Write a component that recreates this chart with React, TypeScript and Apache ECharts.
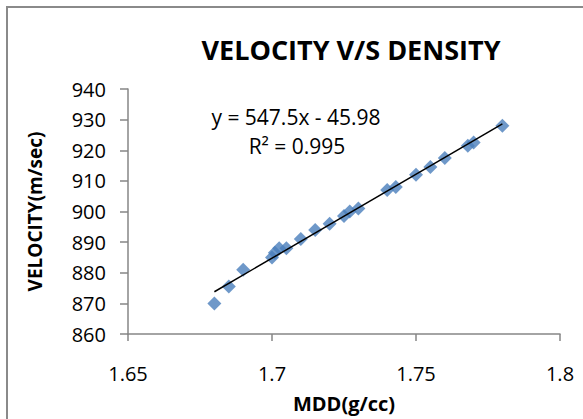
import React, { useEffect, useRef } from "react";
import * as echarts from "echarts";

const mddValues = [1.68, 1.685, 1.69, 1.7, 1.701, 1.7025, 1.705, 1.71, 1.715, 1.72, 1.725, 1.727, 1.73, 1.74, 1.743, 1.75, 1.755, 1.76, 1.768, 1.77, 1.78];
const velocityValues = [870, 875.5, 881, 885, 886.5, 888, 888, 891, 894, 896, 898.5, 900, 901, 907, 908, 912, 914.5, 917.5, 921.5, 922.5, 928];
const trendX = [1.68, 1.78];
const trendY = [873.8, 928.6];
const yTicks = { min: 860, max: 940, interval: 10 };
const xTicks = { min: 1.65, max: 1.8, interval: 0.05 };
const titleText = "VELOCITY V/S DENSITY";
const equationLines = ["y = 547.5x - 45.98", "R² = 0.995"];

const FONT = "'Open Sans', 'Noto Sans', sans-serif";

export default function App() {
  const ref = useRef<HTMLDivElement>(null);
  useEffect(() => {
    if (!ref.current) return;
    const chart = echarts.init(ref.current, null, { renderer: "svg" });
    chart.setOption({
      animation: false,
      backgroundColor: "#ffffff",
      textStyle: { fontFamily: FONT },
      title: {
        text: titleText,
        left: 346,
        top: 31,
        textAlign: "center",
        textStyle: { fontSize: 27, fontWeight: "bold", color: "#000", fontFamily: FONT },
      },
      grid: { left: 128, right: 23, top: 89, bottom: 85 },
      xAxis: {
        type: "value",
        min: xTicks.min,
        max: xTicks.max,
        interval: xTicks.interval,
        name: "MDD(g/cc)",
        nameLocation: "middle",
        nameGap: 59,
        nameTextStyle: { fontSize: 20, fontWeight: "bold", color: "#000", fontFamily: FONT },
        axisLine: { lineStyle: { color: "#868686", width: 1.5 } },
        axisTick: { show: true, length: 7, lineStyle: { color: "#868686", width: 1.5 } },
        axisLabel: { fontSize: 20, color: "#000", margin: 29, fontFamily: FONT, formatter: (v: number) => String(parseFloat(v.toFixed(2))) },
        splitLine: { show: false },
      },
      yAxis: {
        type: "value",
        min: yTicks.min,
        max: yTicks.max,
        interval: yTicks.interval,
        name: "VELOCITY(m/sec)",
        nameLocation: "middle",
        nameGap: 84,
        nameRotate: 90,
        nameTextStyle: { fontSize: 19, fontWeight: "bold", color: "#000", fontFamily: FONT },
        axisLine: { show: true, lineStyle: { color: "#868686", width: 1.5 } },
        axisTick: { show: true, length: 8, lineStyle: { color: "#868686", width: 1.5 } },
        axisLabel: { fontSize: 20, color: "#000", margin: 22, fontFamily: FONT },
        splitLine: { show: false },
      },
      series: [
        {
          type: "scatter",
          symbol: "diamond",
          symbolSize: 14,
          itemStyle: { color: "#4a7ebb" },
          data: mddValues.map((x, i) => [x, velocityValues[i]]),
          z: 2,
        },
        {
          type: "line",
          symbol: "none",
          lineStyle: { color: "#000", width: 1.5 },
          data: trendX.map((x, i) => [x, trendY[i]]),
          z: 3,
        },
      ],
      graphic: [
        {
          type: "rect",
          shape: { x: 7, y: 7, width: 700, height: 600 },
          style: { fill: "none", stroke: "#8a8a8a", lineWidth: 2 },
          silent: true,
        },
        {
          type: "text",
          x: 296,
          y: 117,
          style: { text: equationLines[0], fontSize: 21, fill: "#000", fontFamily: FONT, textAlign: "center", textVerticalAlign: "middle" },
        },
        {
          type: "text",
          x: 297,
          y: 146,
          style: { text: equationLines[1], fontSize: 21, fill: "#000", fontFamily: FONT, textAlign: "center", textVerticalAlign: "middle" },
        },
      ],
    });
    return () => chart.dispose();
  }, []);
  return (
    <div
      ref={ref}
      style={{ position: "absolute", left: 0, top: 0, width: 583, height: 419 }}
    />
  );
}
